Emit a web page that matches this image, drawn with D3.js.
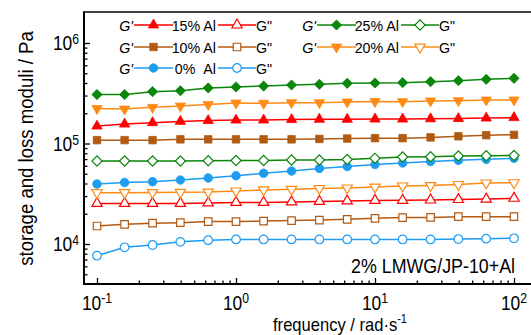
<!DOCTYPE html>
<html><head><meta charset="utf-8">
<script src="https://cdn.jsdelivr.net/npm/d3@7/dist/d3.min.js"></script>
<style>
html,body{margin:0;padding:0;background:#fff;}
svg{display:block;font-family:"Liberation Sans",Arial,sans-serif;}
</style></head>
<body>
<svg id="c" width="531" height="335"></svg>
<script>
// ---- data ----
const freq = [0.1, 0.158, 0.251, 0.398, 0.631, 1, 1.58, 2.51, 3.98, 6.31, 10, 15.8, 25.1, 39.8, 63.1, 100];
const gp25 = [307000, 307000, 328000, 335000, 357000, 365000, 373000, 382000, 388000, 397000, 400000, 403000, 412000, 422000, 435000, 445000];
const gpp25 = [67000, 67000, 67000, 67000, 67400, 67700, 67700, 68500, 68500, 69300, 71200, 73400, 73900, 75100, 75600, 76000];
const gp20 = [223000, 220000, 229000, 236000, 244000, 253000, 251000, 255000, 255000, 259000, 262000, 261000, 265000, 267000, 271000, 271000];
const gpp20 = [32400, 32400, 32500, 32700, 32900, 33700, 34500, 35000, 35700, 36100, 36900, 37800, 38200, 39100, 40500, 40700];
const gp15 = [149000, 156000, 161000, 166000, 169000, 171000, 171000, 173000, 174000, 174000, 175000, 175000, 176000, 177000, 179000, 181000];
const gpp15 = [25300, 25300, 25300, 25300, 25600, 25900, 25900, 26200, 26500, 26800, 27100, 27200, 27400, 27700, 28000, 28500];
const gp10 = [108000, 108000, 108000, 110000, 110000, 110000, 110000, 110000, 111000, 112000, 113000, 113000, 115000, 118000, 121000, 122000];
const gpp10 = [15100, 15700, 16100, 16300, 16700, 16700, 16900, 17100, 17300, 17600, 18000, 18300, 18400, 18700, 18700, 18700];
const gp0 = [39500, 40900, 41700, 43300, 45400, 47800, 50500, 53200, 56400, 59000, 61800, 64000, 66200, 68000, 69600, 71200];
const gpp0 = [7650, 9270, 9770, 10500, 10900, 11100, 11100, 11100, 11100, 11100, 11100, 11100, 11100, 11200, 11300, 11400];
const legendLabels = ["15% Al", "10% Al", "0%\u00a0\u00a0Al", "25% Al", "20% Al"];
const xTickExp = [-1, 0, 1, 2];
const yTickExp = [4, 5, 6];
const xTitle = "frequency / rad\u00b7s";
const yTitle = "storage and loss moduli / Pa";
const note = "2% LMWG/JP-10+Al";

// ---- layout ----
const svg = d3.select("#c");
const L = 84, T = 12, R = 532, B = 284;
const x = d3.scaleLog().domain([0.1, 100]).range([97, 514]);
const y = d3.scaleLog().domain([1e4, 1e6]).range([244, 43]);

const C = {red:"#ff0000", brown:"#b35a12", blue:"#1d9cf0", green:"#0a870a", orange:"#ff8a14"};

const series = [
  {v:gpp0, c:C.blue, m:"circle", open:true},
  {v:gpp10, c:C.brown, m:"square", open:true},
  {v:gpp15, c:C.red, m:"tri", open:true},
  {v:gpp20, c:C.orange, m:"tridown", open:true},
  {v:gp0, c:C.blue, m:"circle", open:false},
  {v:gpp25, c:C.green, m:"diamond", open:true},
  {v:gp10, c:C.brown, m:"square", open:false},
  {v:gp15, c:C.red, m:"tri", open:false},
  {v:gp20, c:C.orange, m:"tridown", open:false},
  {v:gp25, c:C.green, m:"diamond", open:false},
];

function sym(m){
  if(m==="circle") return {p:d3.symbol(d3.symbolCircle, 58)(), r:0};
  if(m==="square") return {p:d3.symbol(d3.symbolSquare, 56)(), r:0};
  if(m==="diamond") return {p:d3.symbol(d3.symbolSquare, 52)(), r:45};
  if(m==="tri") return {p:d3.symbol(d3.symbolTriangle, 46)(), r:0};
  return {p:d3.symbol(d3.symbolTriangle, 46)(), r:180};
}
function drawMarker(g, m, open, c, cx, cy){
  const s = sym(m);
  g.append("path").attr("d", s.p)
    .attr("transform", `translate(${cx},${cy}) rotate(${s.r})`)
    .attr("fill", open ? "#fff" : c)
    .attr("stroke", c).attr("stroke-width", open ? 1.2 : 0.8);
}

// ticks via axes
const majX = xTickExp.map(e => Math.pow(10, e));
const minX = [];
for (let e = -1; e < 2; e++) for (let k = 2; k <= 9; k++) minX.push(k * Math.pow(10, e));
const majY = yTickExp.map(e => Math.pow(10, e));
const minY = [];
for (let e = 3; e < 6; e++) for (let k = 2; k <= 9; k++) { const v = k * Math.pow(10, e); if (y(v) < B - 1) minY.push(v); }

function tickAxis(axis, tr){
  const g = svg.append("g").attr("transform", tr).call(axis);
  g.select(".domain").remove();
  g.selectAll("line").attr("stroke", "#000").attr("stroke-width", 1.3);
  g.selectAll("text").remove();
  return g;
}
tickAxis(d3.axisBottom(x).tickValues(majX).tickSize(-6).tickFormat(""), `translate(0,${B})`);
tickAxis(d3.axisBottom(x).tickValues(minX).tickSize(-3.5).tickFormat(""), `translate(0,${B})`);
tickAxis(d3.axisLeft(y).tickValues(majY).tickSize(-6).tickFormat(""), `translate(${L},0)`);
tickAxis(d3.axisLeft(y).tickValues(minY).tickSize(-3.5).tickFormat(""), `translate(${L},0)`);

// frame
svg.append("line").attr("x1", L).attr("x2", R).attr("y1", T).attr("y2", T).attr("stroke", "#000").attr("stroke-width", 1.5);
svg.append("line").attr("x1", R).attr("x2", R).attr("y1", T).attr("y2", B).attr("stroke", "#000").attr("stroke-width", 1.5);
svg.append("line").attr("x1", L).attr("x2", L).attr("y1", T - 0.75).attr("y2", B + 1).attr("stroke", "#000").attr("stroke-width", 2);
svg.append("line").attr("x1", L - 1).attr("x2", R).attr("y1", B).attr("y2", B).attr("stroke", "#000").attr("stroke-width", 2);

// tick labels
const SX = 0.87;
yTickExp.forEach(e => {
  const t = svg.append("text").attr("transform", `translate(79,${y(Math.pow(10, e)) + 7}) scale(${SX},1)`)
    .attr("text-anchor", "end").attr("font-size", 20).attr("fill", "#000");
  t.append("tspan").text("10");
  t.append("tspan").attr("font-size", 14).attr("dy", -6).text(e);
});
xTickExp.forEach(e => {
  const t = svg.append("text").attr("transform", `translate(${x(Math.pow(10, e))},309.5) scale(${SX},1)`)
    .attr("text-anchor", "middle").attr("font-size", 20).attr("fill", "#000");
  t.append("tspan").text("10");
  t.append("tspan").attr("font-size", 14).attr("dy", -7).text(e === -1 ? "-1" : e);
});

// axis titles
const xt = svg.append("text").attr("transform", "translate(340,330.5) scale(0.92,1)")
  .attr("text-anchor", "middle").attr("font-size", 18).attr("fill", "#000");
xt.append("tspan").text(xTitle);
xt.append("tspan").attr("font-size", 12).attr("dy", -8).text("-1");

svg.append("text").attr("transform", "translate(33,148.5) rotate(-90) scale(0.93,1)")
  .attr("text-anchor", "middle").attr("font-size", 20).attr("fill", "#000").text(yTitle);

// annotation
svg.append("text").attr("transform", "translate(515,273) scale(0.85,1)")
  .attr("text-anchor", "end").attr("font-size", 21).attr("fill", "#000").text(note);

// data series
const line = d3.line().x((d, i) => x(freq[i])).y(d => y(d));
const gS = svg.append("g");
series.forEach(s => {
  gS.append("path").datum(s.v).attr("d", line).attr("fill", "none").attr("stroke", s.c).attr("stroke-width", 1.5);
  s.v.forEach((v, i) => drawMarker(gS, s.m, s.open, s.c, x(freq[i]), y(v)));
});

// legend
const legend = [
  {lab:legendLabels[0], c:C.red, m:"tri", col:0, row:0},
  {lab:legendLabels[1], c:C.brown, m:"square", col:0, row:1},
  {lab:legendLabels[2], c:C.blue, m:"circle", col:0, row:2},
  {lab:legendLabels[3], c:C.green, m:"diamond", col:1, row:0},
  {lab:legendLabels[4], c:C.orange, m:"tridown", col:1, row:1},
];
const rowY = [25, 47, 68];
const colX = [0, 183];
const gL = svg.append("g");
legend.forEach(d => {
  const ox = colX[d.col], cy = rowY[d.row];
  gL.append("text").attr("transform", `translate(${ox + 133},${cy + 5.5}) scale(0.92,1)`)
    .attr("text-anchor", "end").attr("font-size", 15.5).attr("font-style", "italic").text("G'");
  gL.append("line").attr("x1", ox + 134).attr("x2", ox + 173).attr("y1", cy).attr("y2", cy).attr("stroke", d.c).attr("stroke-width", 1.5);
  drawMarker(gL, d.m, false, d.c, ox + 153.5, cy);
  gL.append("text").attr("transform", `translate(${ox + 216},${cy + 5.5}) scale(0.92,1)`)
    .attr("text-anchor", "end").attr("font-size", 15.5).style("white-space", "pre").text(d.lab);
  gL.append("line").attr("x1", ox + 218).attr("x2", ox + 256).attr("y1", cy).attr("y2", cy).attr("stroke", d.c).attr("stroke-width", 1.5);
  drawMarker(gL, d.m, true, d.c, ox + 237, cy);
  gL.append("text").attr("transform", `translate(${ox + 256},${cy + 5.5}) scale(0.92,1)`)
    .attr("text-anchor", "start").attr("font-size", 15.5).text('G"');
});
</script>
</body></html>
